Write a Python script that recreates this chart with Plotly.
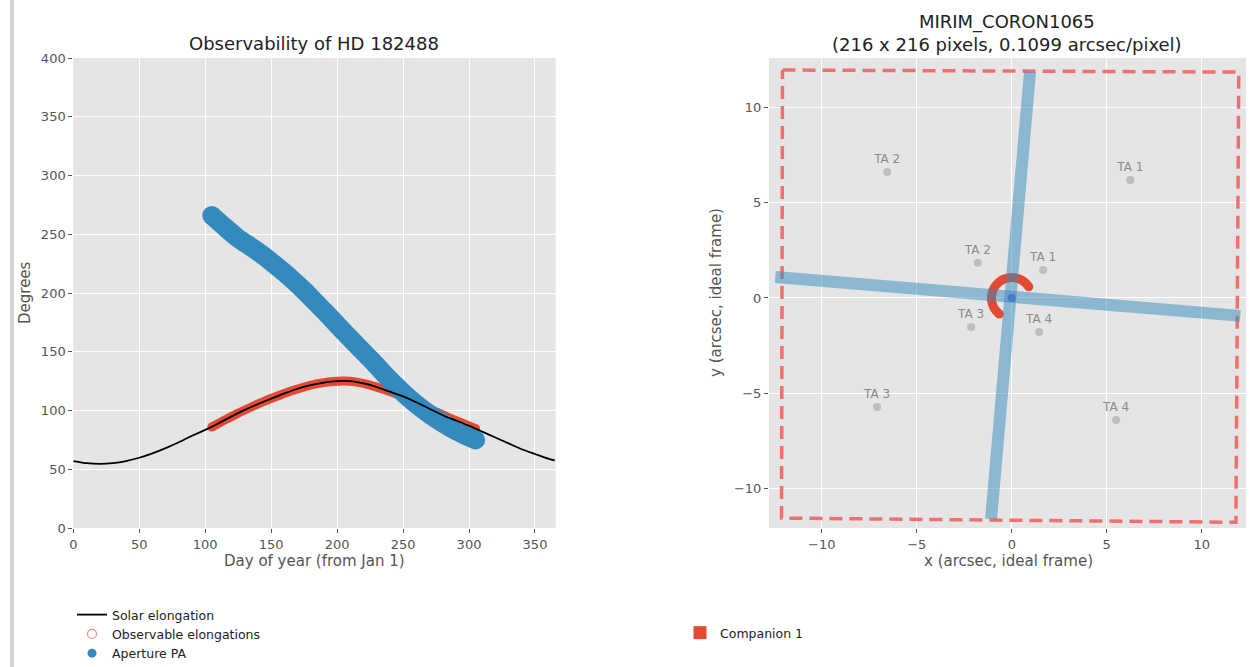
import plotly.graph_objects as go

W, H = 1259, 667
FONT = "DejaVu Sans"

# ---------------- Left panel data ----------------
elong_days = [0, 10, 20, 30, 40, 50, 60, 70, 80, 90, 100, 110, 120, 130, 140, 150, 160, 170, 180,
              190, 200, 210, 220, 230, 240, 250, 260, 270, 280, 290, 300, 310, 320, 330, 340, 350, 360, 365]
solar_elong = [57, 55.2, 54.6, 55.2, 57, 59.8, 63.5, 68, 73, 78.5, 83.5, 89, 95, 100.5, 105.5, 110, 114.5,
               118.5, 121.5, 123.8, 125, 125, 123, 120, 116, 112, 107, 101.5, 96, 91.5, 87, 82, 77, 72,
               67, 63, 59, 57.5]

obs_days = [105, 115, 125, 135, 145, 155, 165, 175, 185, 195, 205, 215, 225, 235, 245, 255, 265, 275,
            285, 295, 305]
obs_elong = [86, 92, 97.8, 103, 108, 112.3, 116.5, 120, 122.8, 124.5, 125.2, 124.2, 121.6, 118, 114,
             109.5, 104.3, 98.8, 93.7, 89.2, 84.5]
aperture_pa = [266, 256, 246.5, 239, 231, 222, 212.5, 202, 190.5, 179, 167, 155.5, 144, 132, 120.5,
               110, 101, 93, 86, 80, 75]

# ---------------- Right panel data ----------------
aper_corner_x = [-12.07, 11.95, 11.80, -12.12, -12.07]
aper_corner_y = [11.96, 11.85, -11.77, -11.55, 11.96]

bar1_x = [0.96, -1.09]
bar1_y = [11.86, -11.60]
bar2_x = [-12.45, 12.03]
bar2_y = [1.10, -0.94]

comp_x = [0.897, 0.688, 0.366, 0.0, -0.366, -0.688, -0.927, -1.054, -1.054, -0.927, -0.659]
comp_y = [0.583, 0.820, 1.005, 1.07, 1.005, 0.820, 0.535, 0.186, -0.186, -0.535, -0.843]

ta_labels = ["TA 1", "TA 2", "TA 3", "TA 4", "TA 1", "TA 2", "TA 3", "TA 4"]
ta_x = [6.24, -6.56, -7.09, 5.49, 1.65, -1.79, -2.14, 1.44]
ta_y = [6.19, 6.61, -5.72, -6.40, 1.47, 1.85, -1.52, -1.78]

left_xticks = [0, 50, 100, 150, 200, 250, 300, 350]
left_yticks = [0, 50, 100, 150, 200, 250, 300, 350, 400]
right_ticks = [-10, -5, 0, 5, 10]

RED = "#E24A33"
BLUE = "#348ABD"

n_obs = len(obs_days)
end_sizes = [19 if i in (0, n_obs - 1) else 0 for i in range(n_obs)]
end_sizes_red = [9 if i in (0, n_obs - 1) else 0 for i in range(n_obs)]
n_comp = len(comp_x)
comp_sizes = [9 if i in (0, n_comp - 1) else 0 for i in range(n_comp)]
NOLINE = dict(width=0)

fig = go.Figure()

# Left panel traces
fig.add_trace(go.Scatter(x=obs_days, y=obs_elong, mode="lines+markers", xaxis="x", yaxis="y",
                         line=dict(color=RED, width=9, shape="spline", smoothing=0.6),
                         marker=dict(color=RED, size=end_sizes_red, line=NOLINE, opacity=1),
                         showlegend=False, hoverinfo="skip"))
fig.add_trace(go.Scatter(x=obs_days, y=aperture_pa, mode="lines+markers", xaxis="x", yaxis="y",
                         line=dict(color=BLUE, width=19, shape="spline", smoothing=0.6),
                         marker=dict(color=BLUE, size=end_sizes, line=NOLINE, opacity=1),
                         showlegend=False, hoverinfo="skip"))
fig.add_trace(go.Scatter(x=elong_days, y=solar_elong, mode="lines", xaxis="x", yaxis="y",
                         line=dict(color="black", width=1.8, shape="spline", smoothing=0.5),
                         name="Solar elongation", legend="legend", legendrank=1, hoverinfo="skip"))
fig.add_trace(go.Scatter(x=[None], y=[None], mode="markers", xaxis="x", yaxis="y",
                         marker=dict(symbol="circle-open", color="#EE8E80", size=9, line=dict(width=1.2)),
                         name="Observable elongations", legend="legend", legendrank=2))
fig.add_trace(go.Scatter(x=[None], y=[None], mode="markers", xaxis="x", yaxis="y",
                         marker=dict(symbol="circle", color=BLUE, size=9),
                         name="Aperture PA", legend="legend", legendrank=3))

# Right panel traces
fig.add_trace(go.Scatter(x=aper_corner_x, y=aper_corner_y, mode="lines", xaxis="x2", yaxis="y2",
                         line=dict(color="#F07070", width=3.5, dash="13px,7px"),
                         showlegend=False, hoverinfo="skip"))
fig.add_trace(go.Scatter(x=ta_x, y=ta_y, mode="markers+text", xaxis="x2", yaxis="y2",
                         marker=dict(color="#BEBEBE", size=8), text=ta_labels,
                         textposition="top center",
                         textfont=dict(family=FONT, size=12, color="#8A8A8A"),
                         showlegend=False, hoverinfo="skip"))
fig.add_trace(go.Scatter(x=comp_x, y=comp_y, mode="lines+markers", xaxis="x2", yaxis="y2",
                         line=dict(color=RED, width=9, shape="spline"),
                         marker=dict(color=RED, size=comp_sizes, line=NOLINE, opacity=1),
                         showlegend=False, hoverinfo="skip"))
fig.add_trace(go.Scatter(x=bar1_x, y=bar1_y, mode="lines", xaxis="x2", yaxis="y2",
                         line=dict(color="rgba(52,138,189,0.5)", width=12),
                         showlegend=False, hoverinfo="skip"))
fig.add_trace(go.Scatter(x=bar2_x, y=bar2_y, mode="lines", xaxis="x2", yaxis="y2",
                         line=dict(color="rgba(52,138,189,0.5)", width=12),
                         showlegend=False, hoverinfo="skip"))
fig.add_trace(go.Scatter(x=[0], y=[0], mode="markers", xaxis="x2", yaxis="y2",
                         marker=dict(color="#4A78CC", size=8),
                         showlegend=False, hoverinfo="skip"))
fig.add_trace(go.Scatter(x=[None], y=[None], mode="markers", xaxis="x2", yaxis="y2",
                         marker=dict(symbol="square", color=RED, size=13),
                         name="Companion 1", legend="legend2"))

def px_x(p):
    return p / W

def px_y(p):
    return 1 - p / H

axis_common = dict(showgrid=True, gridcolor="white", gridwidth=1, zeroline=False,
                   ticks="outside", ticklen=4, tickcolor="#555", showline=False,
                   tickfont=dict(family=FONT, size=13, color="#555"))

fig.update_layout(
    autosize=True,
    margin=dict(l=0, r=0, t=0, b=0, autoexpand=False),
    paper_bgcolor="white",
    plot_bgcolor="#E5E5E5",
    font=dict(family=FONT, size=12, color="#555"),
    xaxis=dict(domain=[px_x(73.3), px_x(555.7)], range=[0, 365.7], tickvals=left_xticks,
               anchor="y", **axis_common),
    yaxis=dict(domain=[px_y(528), px_y(58)], range=[0, 400], tickvals=left_yticks,
               anchor="x", **axis_common),
    xaxis2=dict(domain=[px_x(769), px_x(1246)], range=[-12.78, 12.33], tickvals=right_ticks,
                anchor="y2", **axis_common),
    yaxis2=dict(domain=[px_y(528), px_y(58)], range=[-12.07, 12.59], tickvals=right_ticks,
                anchor="x2", **axis_common),
    legend=dict(x=px_x(72), y=px_y(600), xanchor="left", yanchor="top",
                bgcolor="rgba(0,0,0,0)", font=dict(family=FONT, size=12.5, color="#222"),
                tracegroupgap=0),
    legend2=dict(x=px_x(680), y=px_y(618), xanchor="left", yanchor="top",
                 bgcolor="rgba(0,0,0,0)", font=dict(family=FONT, size=12.5, color="#222")),
    shapes=[dict(type="rect", xref="paper", yref="paper", x0=px_x(10), x1=px_x(14), y0=0, y1=1,
                 fillcolor="#D3D3D3", line=dict(width=0), layer="below")],
    annotations=[
        dict(text="Observability of HD 182488", x=px_x(314), y=px_y(44), xref="paper", yref="paper",
             showarrow=False, xanchor="center", yanchor="middle",
             font=dict(family=FONT, size=18, color="#222")),
        dict(text="MIRIM_CORON1065<br>(216 x 216 pixels, 0.1099 arcsec/pixel)", x=px_x(1007),
             y=px_y(33), xref="paper", yref="paper", showarrow=False, xanchor="center",
             yanchor="middle", font=dict(family=FONT, size=18, color="#222")),
        dict(text="Day of year (from Jan 1)", x=px_x(314), y=px_y(561), xref="paper", yref="paper",
             showarrow=False, xanchor="center", yanchor="middle",
             font=dict(family=FONT, size=15, color="#555")),
        dict(text="Degrees", x=px_x(25), y=px_y(293), xref="paper", yref="paper", textangle=-90,
             showarrow=False, xanchor="center", yanchor="middle",
             font=dict(family=FONT, size=15, color="#555")),
        dict(text="x (arcsec, ideal frame)", x=px_x(1008), y=px_y(561), xref="paper", yref="paper",
             showarrow=False, xanchor="center", yanchor="middle",
             font=dict(family=FONT, size=15, color="#555")),
        dict(text="y (arcsec, ideal frame)", x=px_x(716), y=px_y(293), xref="paper", yref="paper",
             textangle=-90, showarrow=False, xanchor="center", yanchor="middle",
             font=dict(family=FONT, size=15, color="#555")),
    ],
)

POST = (
    "document.documentElement.style.height='100%';"
    "document.documentElement.style.overflow='hidden';"
    "document.body.style.height='100%';"
    "document.body.style.margin='0px';"
    "document.body.style.overflow='hidden';"
    "var gd=document.getElementById('{plot_id}');"
    "gd.parentElement.style.height='100%';"
    "gd.style.height='100%';gd.style.width='100%';"
    "Plotly.Plots.resize(gd);"
)

fig.write_html(
    "out.html",
    config={"displayModeBar": False, "responsive": True},
    default_width="100%",
    default_height="100%",
    post_script=POST,
)
